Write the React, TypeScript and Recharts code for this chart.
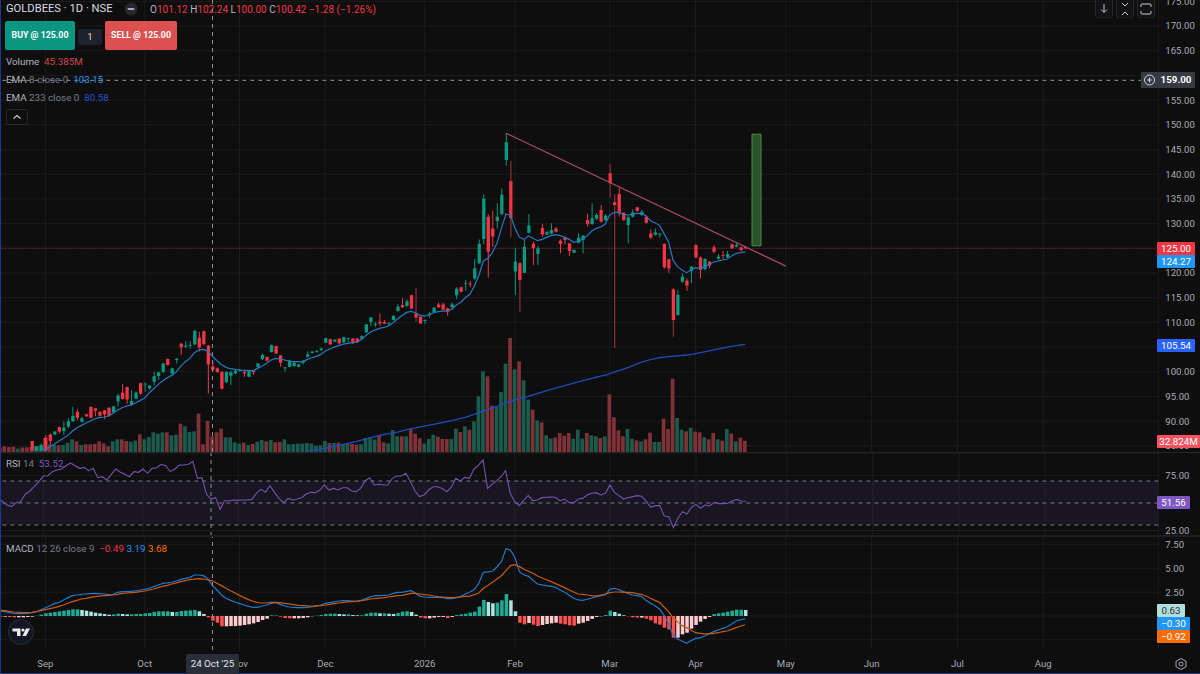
import React from 'react';
import {
  ComposedChart,
  Bar,
  Line,
  XAxis,
  YAxis,
  CartesianGrid,
  ReferenceLine,
  ReferenceArea,
} from 'recharts';

const gap7 = Array(7).fill(null);

const opens = [
  ...gap7, 85.99, 84.03, 84.17,
  86.66, 87.34, 87.3, 88.8, 88.0, 88.9, 90.0, 91.9, 89.9, 91.4,
  92.9, 92.6, 91.9, 92.2, 92.7, 91.8, 94.0, 95.8, 96.9, 93.3,
  94.6, 97.7, 97.5, 96.65, 98.0, 99.15, 100.0, 102.6, 99.7, 102.4,
  105.7, 105.1, 105.3, 105.56, 106.9, 108.2, 105.3, 101.12, 100.7, 100.0,
  97.9, 99.2, 99.7, 100.15, 100.0, 99.0, 100.15, 101.0, 102.6, 103.0,
  104.0, 105.2, 103.3, 100.7, 101.0, 101.2, 101.0, 101.84, 103.05, 103.8,
  104.05, 104.4, 105.9, 106.6, 106.1, 106.7, 106, 106.7, 106.75, 106.75,
  106.7, 108.0, 110.1, 109.5, 110.1, 110.1, 109.65, 110.5, 112.3, 113.5,
  113.3, 115.5, 111.8, 111.15, 110.3, 111.5, 112.0, 113.6, 113.65, 112.85,
  113.05, 115.5, 117.1, 117.9, 117.85, 118.9, 121.95, 126.9, 131.4, 129.0,
  130.5, 131.95, 142.9, 138.6, 120.3, 122, 120.05, 128.15, 125.9, 123.85,
  129.1, 127.8, 128, 129, 126.55, 127.2, 126, 124.1, 126.15, 126.7,
  130.7, 129.9, 131, 132.75, 130.65, 140.2, 134.35, 136, 132.2, 129.7,
  131.4, 133.3, 131.75, 131.4, 128, 127.7, 127.8, 125.9, 122.75, 116.7,
  111.5, 118.25, 118.45, 120.4, 125.65, 123.15, 120.8, 122.3, 125.2, 122.9,
  123.65, 123.2, 125.8, 125.3, 125.2, 125.3,
];

const highs = [
  ...gap7, 86.0, 84.9, 85.5,
  87.2, 87.5, 88.0, 88.9, 89.9, 90.6, 92.9, 92.4, 90.9, 91.5,
  93.0, 92.7, 92, 92.3, 92.9, 93.1, 95.6, 97.5, 97.0, 96.3,
  96.0, 97.8, 97.8, 97.3, 100.0, 100, 101.8, 102.7, 100.8, 102.8,
  105.8, 106.2, 106.2, 108.5, 108.1, 108.4, 105.4, 102.24, 100.9, 100.1,
  100.1, 100.2, 100.5, 100.6, 100.1, 100.2, 100.2, 101.8, 103.7, 103.1,
  105.5, 105.3, 103.4, 101.0, 102.4, 102.0, 101.6, 102.4, 104.1, 104.2,
  104.4, 104.95, 106.9, 106.7, 106.6, 106.8, 107.1, 106.9, 106.8, 106.8,
  107.4, 109.7, 111.1, 110.1, 111.8, 110.5, 110.1, 111.4, 113.7, 114.9,
  114.7, 115.6, 117.0, 111.2, 110.6, 112.15, 113.1, 114.0, 114, 113,
  114, 117.1, 117.2, 118.6, 118.4, 122.8, 126.8, 135.9, 131.9, 132.6,
  134.1, 137.1, 148.3, 142.7, 125.0, 122.2, 126.7, 131.9, 126.3, 125.45,
  129.9, 128.4, 130.05, 129.3, 126.8, 127.4, 126.1, 124.8, 128.05, 127.7,
  132, 134.1, 132.1, 133.75, 131.9, 142, 136, 137.25, 132.3, 131.6,
  132.9, 133.4, 132.75, 131.5, 128.85, 129, 128.1, 126, 122.9, 117,
  116.55, 119.9, 118.9, 121.4, 125.8, 123.3, 123, 122.4, 125.65, 123.8,
  124.45, 124.45, 125.95, 126.2, 125.3, 125.5,
];

const lows = [
  ...gap7, 84.0, 84.0, 84.0,
  84.0, 85.2, 87.2, 87.5, 87.2, 88.6, 89.9, 90.2, 89.7, 90.9,
  90.6, 91.0, 90.9, 90.4, 90.9, 91.7, 93.0, 94.4, 93.5, 93.1,
  94.4, 95.4, 96.0, 96.4, 97.3, 98.3, 99.7, 101.3, 99.3, 101.7,
  103.4, 104.8, 104.7, 105.4, 104.1, 105.4, 95.6, 100, 99.8, 96.4,
  97.7, 97.3, 99.5, 100.0, 99.0, 98.9, 99.35, 100.7, 102.4, 102.0,
  103.9, 103.6, 101.0, 100.0, 100.9, 101.0, 100.9, 101.5, 102.9, 103.7,
  103.9, 104.2, 105.8, 105.5, 106, 105.7, 105.8, 106, 105.6, 105.9,
  106.5, 107.9, 109.2, 109.1, 109.3, 109.7, 109.3, 110.4, 112.2, 113,
  113.2, 112.7, 110.1, 109.7, 109.65, 111.0, 111.9, 113, 112.4, 111.35,
  112.9, 114.7, 116.1, 116.4, 117.1, 118.6, 121.9, 125.8, 119.1, 125.3,
  129.0, 131.7, 141.7, 127.2, 115.55, 112.1, 120.0, 128, 121.6, 121.6,
  127.35, 127.7, 127.8, 128.2, 124, 125.8, 123.45, 124, 126, 124,
  129.4, 129.8, 130.7, 130.2, 130.5, 135.25, 104.75, 131.4, 130.6, 126,
  131.25, 132.4, 131.6, 130, 126.9, 127.55, 127.15, 120.9, 120.05, 107.1,
  111.4, 118, 116.4, 117.9, 123, 118.9, 120.5, 120.95, 124, 122.65,
  122.8, 123, 124.9, 125.2, 124.4, 124.8,
];

const closes = [
  ...gap7, 84.03, 84.84, 85.15,
  84.03, 86.0, 87.9, 87.9, 88.7, 90.0, 91.1, 90.7, 90.6, 91.0,
  90.7, 92.1, 91.1, 91.4, 91.1, 93.0, 95.2, 94.5, 94.4, 94.1,
  95.8, 95.6, 97.6, 97.2, 99.1, 99.9, 101.7, 101.4, 100.7, 102.65,
  104.95, 105.3, 105.4, 108.3, 104.95, 105.6, 101.5, 100.42, 99.96, 96.6,
  100.0, 99.9, 100.2, 100.4, 99.7, 100.15, 99.9, 101.7, 103.4, 102.3,
  105.4, 103.7, 101.85, 100.9, 102.3, 101.85, 101.5, 102.25, 103.5, 104.1,
  104.2, 104.7, 106.8, 105.55, 106.5, 105.75, 107, 106.8, 105.8, 106.0,
  107.2, 109.6, 111.0, 109.7, 109.8, 109.75, 109.8, 111.35, 113.2, 113.05,
  114.3, 112.8, 111.0, 109.8, 110.5, 111.75, 113, 113.05, 112.6, 112.15,
  113.65, 116.8, 116.2, 118.0, 117.7, 120.95, 125.9, 135.05, 124.3, 127.35,
  131.4, 135.85, 146.5, 131.05, 122.3, 118.6, 125.3, 129.65, 125.05, 125,
  127.8, 128.35, 128.7, 128.35, 125.9, 126.7, 124.45, 124.65, 127.15, 127.55,
  129.9, 131.1, 131.75, 130.4, 131.6, 138.15, 133.75, 132.1, 130.7, 131.27,
  132.3, 132.55, 132.4, 130.2, 127.15, 128.2, 128, 121.15, 120.95, 110.5,
  115.55, 119.25, 117.45, 121.3, 123.15, 120.6, 122.85, 121.5, 124.3, 123.3,
  123.5, 123.85, 125, 125.65, 124.65, 125,
];

// in millions
const volumes = [
  12.5, 16.4, 14.5, 15.4, 9.7, 13.5, 13.5, 14.5, 17.4, 19.3,
  40.5, 21.2, 21.2, 19.3, 20.3, 27, 36.7, 30.9, 20.3, 22.2,
  22.2, 23.2, 30.9, 25.1, 16.4, 30.9, 36.7, 36.7, 31.8, 29.9,
  32.8, 51.1, 36.7, 43.4, 56.9, 53.1, 56.9, 56.9, 48.3, 50.2,
  82, 74.3, 57.9, 59.8, 111, 22.2, 89.7, 45.385, 56.9, 67.6,
  42.5, 42.5, 28, 24.1, 27, 20.3, 23.2, 29.9, 34.7, 30.9,
  34.7, 28, 29, 36.7, 22.2, 23.2, 24.1, 24.1, 26.1, 24.1,
  18.3, 19.3, 31.8, 26.1, 26.1, 27, 23.2, 24.1, 23.2, 21.2,
  22.2, 40.5, 43.4, 35.7, 46.3, 28, 25.1, 63.7, 45.4, 45.4,
  45.4, 68.5, 53.1, 39.6, 24.1, 37.6, 50.2, 44.4, 37.6, 37.6,
  37.6, 67.6, 57.9, 74.3, 64.7, 88.8, 161.2, 233.5, 219.1, 134.1,
  130.3, 173.7, 255.7, 330, 239.3, 262.5, 207.5, 151.5, 122.6, 91.7,
  85.9, 48.3, 38.6, 42.5, 55, 47.3, 55, 38.6, 64.7, 38.6,
  55, 48.3, 45.4, 40.5, 45.4, 166.9, 100.4, 62.7, 45.4, 66.6,
  38.6, 33.8, 30.9, 36.7, 56, 29, 29, 96.5, 66.6, 212.3,
  98.4, 64.7, 59.8, 70.4, 58.9, 56.9, 42.5, 36.7, 55, 36.7,
  32.8, 66.6, 53.1, 30.9, 41.5, 32.824,
];

// first sessions sit below the visible price range, only their volume colour is known
const earlyVolumeDown = [true, true, true, true, false, true, true];

const ema8 = [
  ...Array(9).fill(null), 84.03,
  84.3, 84.84, 85.38, 85.99, 86.53, 87.14, 88.01, 88.69, 89.16, 89.63,
  90.04, 90.51, 90.71, 90.85, 91.05, 91.59, 92.27, 92.74, 93.07, 93.28,
  93.75, 94.22, 94.69, 95.77, 96.58, 97.46, 98.2, 98.81, 99.28, 100.03,
  101.17, 102.05, 102.72, 103.87, 104.41, 104.55, 104.14, 103.15, 102.25, 101.44,
  100.9, 100.63, 100.5, 100.36, 100.3, 100.23, 100.23, 100.7, 101.17, 101.71,
  102.39, 102.72, 102.59, 102.39, 102.12, 102.05, 102.05, 101.98, 102.52, 102.85,
  103.12, 103.53, 104.2, 104.61, 105.01, 105.35, 105.62, 105.76, 105.89, 106.02,
  106.56, 107.37, 108.05, 108.45, 108.79, 108.99, 109.26, 109.94, 110.75, 111.42,
  112.03, 112.23, 111.96, 111.42, 111.29, 111.56, 111.96, 112.17, 112.3, 112.37,
  112.64, 113.51, 114.1, 115.0, 115.7, 117.3, 119.5, 122.43, 122.97, 124.11,
  126, 129.04, 131.94, 131.74, 129.04, 127.22, 126.81, 127.49, 127.02, 126.54,
  126.81, 127.22, 127.56, 127.76, 127.56, 127.22, 126.81, 126.21, 126.34, 126.88,
  127.56, 128.5, 129.04, 129.31, 129.92, 131.74, 132.28, 132.21, 131.87, 131.74,
  131.87, 132.08, 132.08, 131.6, 130.59, 130.19, 129.65, 128.03, 126.34, 122.63,
  121.28, 120.6, 120.07, 120.6, 121.08, 120.94, 121.28, 121.69, 122.23, 122.43,
  122.63, 122.83, 123.44, 123.98, 124.11, 124.27,
];

const ema233 = [
  ...Array(68).fill(null), 83.96, 84.08,
  84.2, 84.35, 84.5, 84.73, 84.97, 85.14, 85.31, 85.51, 85.72, 85.92,
  86.17, 86.41, 86.66, 86.88, 87.11, 87.33, 87.49, 87.65, 87.81, 88.03,
  88.26, 88.48, 88.66, 88.84, 89.02, 89.2, 89.38, 89.56, 89.74, 89.92,
  90.1, 90.33, 90.56, 90.78, 91.08, 91.38, 91.73, 92.05, 92.4, 92.72,
  93.0, 93.25, 93.75, 94.09, 94.3, 94.55, 94.76, 95.05, 95.35, 95.65,
  95.9, 96.2, 96.45, 96.7, 96.95, 97.19, 97.45, 97.7, 97.95, 98.2,
  98.42, 98.65, 98.9, 99.12, 99.35, 99.65, 99.95, 100.23, 100.55, 100.85,
  101.2, 101.6, 101.95, 102.2, 102.45, 102.65, 102.85, 102.98, 103.07, 103.15,
  103.22, 103.3, 103.4, 103.55, 103.7, 103.87, 104.05, 104.25, 104.45, 104.65,
  104.82, 105.0, 105.15, 105.3, 105.43, 105.54,
];

const rsi = [
  54.85, 51.2, 48.2, 46.7, 50.3, 51.2, 57.9, 60.9, 64.8, 69.4,
  74.5, 74.8, 78.5, 80.0, 80.9, 83.9, 86.4, 83.9, 81.5, 82.4,
  79.4, 81.5, 73.0, 73.9, 70.9, 76.1, 80.9, 77.9, 76.1, 73.9,
  78.5, 77.9, 80.9, 77.0, 81.5, 82.1, 85.2, 83.9, 78.5, 80.9,
  84.5, 84.5, 85.2, 87.6, 72.4, 73.0, 57.9, 53.52, 54.85, 44.2,
  52.1, 52.1, 52.7, 52.4, 52.7, 52.7, 53.3, 58.8, 62.4, 59.7,
  65.8, 59.7, 54.2, 50.3, 54.2, 52.7, 53.6, 54.85, 58.2, 59.7,
  59.4, 61.5, 66.4, 61.8, 63.3, 61.8, 63.9, 63.9, 60.9, 60.3,
  63.3, 70, 73, 66.4, 67, 66.4, 66.4, 72.4, 74.5, 74.5,
  77, 69.4, 60.9, 55.8, 57.3, 61.8, 64.8, 64.8, 63.3, 60.3,
  64.2, 72.4, 70, 73.3, 72.4, 80.6, 84.5, 89.1, 63.3, 67,
  70.3, 73.9, 79.4, 58.8, 51.2, 47.6, 52.7, 56.7, 52.1, 52.7,
  54.85, 55.2, 55.5, 55.2, 52.1, 53.6, 50.3, 50.3, 53.6, 54.2,
  57.3, 58.8, 59.4, 57.3, 58.8, 66.4, 59.7, 56.7, 53.6, 54.85,
  55.8, 56.7, 56.1, 51.8, 46.1, 47.6, 47.6, 38.2, 37.6, 27.6,
  36.1, 42.1, 40, 46.1, 48.8, 45.2, 48.2, 47.3, 50.6, 49.4,
  49.4, 49.7, 51.8, 53.3, 51.8, 51.56,
];

const macd = [
  0.52, 0.45, 0.35, 0.28, 0.24, 0.24, 0.28, 0.35, 0.45, 0.66,
  0.87, 1.08, 1.29, 1.43, 1.68, 1.92, 2.13, 2.2, 2.27, 2.3,
  2.34, 2.37, 2.34, 2.3, 2.23, 2.27, 2.48, 2.55, 2.55, 2.58,
  2.62, 2.72, 2.79, 2.9, 3.07, 3.25, 3.42, 3.46, 3.53, 3.66,
  3.84, 3.94, 4.05, 4.29, 4.29, 4.22, 3.87, 3.19, 2.72, 2.2,
  1.85, 1.64, 1.47, 1.29, 1.15, 1.01, 0.91, 0.91, 1.05, 1.15,
  1.33, 1.4, 1.22, 1.05, 0.94, 0.91, 0.87, 0.87, 0.91, 0.98,
  1.05, 1.15, 1.33, 1.4, 1.47, 1.57, 1.61, 1.61, 1.57, 1.57,
  1.64, 1.82, 2.02, 2.13, 2.13, 2.16, 2.2, 2.37, 2.48, 2.48,
  2.58, 2.65, 2.37, 2.06, 1.99, 1.95, 1.95, 1.95, 1.92, 1.82,
  1.82, 1.92, 2.06, 2.3, 2.51, 2.76, 3.42, 4.57, 4.61, 4.68,
  5.13, 5.69, 7.05, 6.91, 6.11, 4.64, 4.29, 4.15, 3.73, 3.35,
  3.25, 3.18, 3.11, 3.0, 2.72, 2.48, 2.16, 1.85, 1.68, 1.64,
  1.75, 1.88, 2.02, 2.13, 2.2, 2.79, 2.9, 2.76, 2.55, 2.37,
  2.2, 2.13, 2.06, 1.64, 1.33, 1.08, 0.73, 0.1, -0.77, -1.99,
  -2.41, -2.62, -2.86, -2.58, -2.34, -2.3, -2.09, -1.85, -1.64, -1.47,
  -1.29, -1.12, -0.84, -0.52, -0.38, -0.3,
];

const macdSignal = [
  0.59, 0.56, 0.49, 0.42, 0.38, 0.35, 0.35, 0.38, 0.45, 0.56,
  0.66, 0.77, 0.87, 1.01, 1.15, 1.33, 1.5, 1.64, 1.78, 1.85,
  1.95, 2.02, 2.09, 2.13, 2.16, 2.2, 2.27, 2.37, 2.41, 2.44,
  2.48, 2.55, 2.62, 2.72, 2.83, 2.97, 3.11, 3.21, 3.35, 3.46,
  3.6, 3.7, 3.8, 3.87, 3.91, 3.87, 3.77, 3.68, 3.42, 3.18,
  2.9, 2.65, 2.41, 2.16, 1.92, 1.71, 1.54, 1.4, 1.36, 1.36,
  1.43, 1.43, 1.4, 1.33, 1.26, 1.19, 1.12, 1.08, 1.05, 1.01,
  1.05, 1.08, 1.15, 1.22, 1.29, 1.36, 1.43, 1.47, 1.5, 1.54,
  1.61, 1.68, 1.78, 1.82, 1.88, 1.92, 1.99, 2.06, 2.13, 2.16,
  2.27, 2.37, 2.37, 2.3, 2.23, 2.2, 2.09, 2.02, 1.99, 1.95,
  1.92, 1.95, 1.99, 2.06, 2.09, 2.23, 2.41, 2.9, 3.18, 3.53,
  3.87, 4.22, 4.75, 5.27, 5.38, 5.17, 4.89, 4.68, 4.47, 4.19,
  3.98, 3.8, 3.6, 3.39, 3.18, 2.97, 2.72, 2.51, 2.3, 2.27,
  2.2, 2.13, 2.09, 2.2, 2.3, 2.44, 2.51, 2.51, 2.48, 2.48,
  2.44, 2.34, 2.27, 2.09, 1.85, 1.64, 1.43, 0.94, 0.45, -0.17,
  -0.59, -1.01, -1.22, -1.5, -1.75, -1.82, -1.88, -1.88, -1.82, -1.75,
  -1.64, -1.57, -1.4, -1.22, -1.05, -0.92,
];

const macdHist = [
  -0.07, -0.07, -0.1, -0.14, -0.14, -0.14, -0.1, -0.07, 0.03, 0.14,
  0.28, 0.35, 0.42, 0.49, 0.56, 0.63, 0.7, 0.7, 0.63, 0.56,
  0.45, 0.35, 0.28, 0.21, 0.14, 0.17, 0.24, 0.21, 0.17, 0.17,
  0.21, 0.21, 0.28, 0.31, 0.42, 0.49, 0.49, 0.49, 0.42, 0.42,
  0.52, 0.56, 0.59, 0.63, 0.49, 0.21, -0.14, -0.49, -0.7, -1.08,
  -1.08, -1.05, -1.05, -1.01, -0.94, -0.87, -0.77, -0.63, -0.42, -0.28,
  0.07, 0.03, -0.07, -0.21, -0.24, -0.24, -0.24, -0.21, -0.14, -0.03,
  0.03, 0.1, 0.21, 0.24, 0.24, 0.21, 0.17, 0.17, 0.1, 0.07,
  0.07, 0.24, 0.35, 0.35, 0.28, 0.28, 0.24, 0.21, 0.31, 0.45,
  0.49, 0.42, 0.14, -0.17, -0.24, -0.24, -0.17, -0.1, -0.1, -0.21,
  -0.1, 0.1, 0.17, 0.24, 0.35, 0.45, 0.98, 1.68, 1.47, 1.33,
  1.4, 1.64, 2.3, 1.64, 0.49, -0.7, -0.87, -0.73, -0.91, -1.05,
  -0.94, -0.84, -0.77, -0.7, -0.8, -0.87, -0.98, -1.01, -0.8, -0.7,
  -0.52, -0.31, -0.1, -0.03, 0.1, 0.56, 0.42, 0.24, 0.07, -0.03,
  -0.14, -0.17, -0.17, -0.28, -0.45, -0.77, -0.91, -1.22, -1.4, -2.27,
  -2.27, -1.92, -1.75, -1.33, -0.94, -0.59, -0.31, -0.1, 0.21, 0.28,
  0.35, 0.45, 0.56, 0.66, 0.66, 0.63,
];

const monthRows = [10, 32, 53, 72, 94, 114, 135, 154, 174, 193, 212, 231];
const monthLabels = ['Sep', 'Oct', 'Nov', 'Dec', '2026', 'Feb', 'Mar', 'Apr', 'May', 'Jun', 'Jul', 'Aug'];
const priceGrid = [175, 170, 165, 160, 155, 150, 145, 140, 135, 130, 125, 120, 115, 110, 105, 100, 95, 90, 85];
// 160, 125 and 105 sit fully behind the value tags on the axis
const priceTicks = [175, 170, 165, 155, 150, 145, 140, 135, 130, 120, 115, 110, 100, 95, 90, 85];
const rsiTicks = [75, 25];
const macdGrid = [7.5, 5, 2.5, 0, -2.5];
const macdTicks = [7.5, 5, 2.5, -2.5];

const ROW_COUNT = 257;
const CROSSHAIR_ROW = 47;
// these wicks land between two pixels in the screenshot and read much darker
const softWicks = [92, 113, 115, 135, 136, 149];

const rows = Array.from({ length: ROW_COUNT }, (_, i) => ({
  idx: i,
  open: opens[i] ?? null,
  high: highs[i] ?? null,
  low: lows[i] ?? null,
  close: closes[i] ?? null,
  volume: volumes[i] ?? null,
  ema8: ema8[i] ?? null,
  ema233: ema233[i] ?? null,
  rsi: rsi[i] ?? null,
  macd: macd[i] ?? null,
  signal: macdSignal[i] ?? null,
  hist: macdHist[i] ?? null,
  prevHist: macdHist[i - 1] ?? 0,
  volumeDown: i < earlyVolumeDown.length ? earlyVolumeDown[i] : closes[i] < opens[i],
}));

const BG = '#0e0e0f';
const GRID = '#1b1b1d';
const UP = '#089981';
const DOWN = '#f23645';
const AXIS_TEXT = '#a8abb3';
const FONT = 'Roboto, sans-serif';
const CHART_W = 1202.26;
const AXIS_W = 41.9;

const fmt = (v: number) => (v < 0 ? '\u2212' : '') + Math.abs(v).toFixed(2);
const monthLabel = (row: number) => monthLabels[monthRows.indexOf(row)] ?? '';
const tickStyle = { fill: AXIS_TEXT, fontSize: 9.6, fontFamily: FONT };

const Candle = (props: any) => {
  const { x, y, width, height, payload } = props;
  if (payload.high == null) return null;
  const { idx, open, high, low, close } = payload;
  const unit = height / (high - low || 1);
  const color = close < open ? DOWN : UP;
  const bodyTop = y + (high - Math.max(open, close)) * unit;
  const bodyH = Math.max(Math.abs(open - close) * unit, 0.8);
  const mid = x + width / 2;
  const soft = softWicks.includes(idx);
  return (
    <g>
      <line x1={mid} x2={mid} y1={y} y2={y + height} stroke={soft ? '#7c2a33' : color} strokeWidth={soft ? 1.4 : 1} />
      <rect x={x} y={bodyTop} width={width} height={bodyH} fill={color} />
    </g>
  );
};

const VolumeBar = (props: any) => {
  const { x, y, width, height, payload } = props;
  if (payload.volume == null) return null;
  const fill = payload.volumeDown ? '#7f3238' : '#1b5b4e';
  return <rect x={x} y={y} width={width} height={height} fill={fill} />;
};

const HistBar = (props: any) => {
  const { x, y, width, height, payload } = props;
  if (payload.hist == null) return null;
  const { hist, prevHist } = payload;
  let fill = '#22ab94';
  if (hist >= 0 && hist < prevHist) fill = '#ace5dc';
  if (hist < 0) fill = hist < prevHist ? '#ff5252' : '#fccbcd';
  return <rect x={x} y={Math.min(y, y + height)} width={width} height={Math.abs(height)} fill={fill} />;
};

const Tag = ({ top, width, bg, color = '#fff', text, height = 13 }: any) => (
  <div
    style={{
      position: 'absolute',
      left: 1157,
      top,
      width,
      height,
      lineHeight: `${height}px`,
      background: bg,
      color,
      fontSize: 9.8,
      fontFamily: FONT,
      textAlign: 'center',
      borderRadius: 1,
    }}
  >
    {text}
  </div>
);

const Label = ({ left, top, children, color = '#b2b5be', size = 9.8, weight = 400 }: any) => (
  <div
    style={{
      position: 'absolute',
      left,
      top,
      color,
      fontSize: size,
      fontWeight: weight,
      fontFamily: FONT,
      whiteSpace: 'nowrap',
      lineHeight: '12px',
    }}
  >
    {children}
  </div>
);

const IconBox = ({ left, d }: any) => (
  <svg style={{ position: 'absolute', left, top: 0 }} width={18} height={18}>
    <rect x={0.5} y={-3} width={17} height={21} rx={3} fill="#131315" stroke="#26272b" />
    <path d={d} fill="none" stroke="#c8cad0" strokeWidth={1} />
  </svg>
);

export default function App() {
  const crosshair = <ReferenceLine x={CROSSHAIR_ROW} stroke="#8f9298" strokeDasharray="4 4" />;
  return (
    <div style={{ position: 'fixed', left: 0, top: 0, width: 1200, height: 674, background: BG, overflow: 'hidden' }}>
      {/* price + volume pane */}
      <div style={{ position: 'absolute', left: -2.26, top: 0 }}>
        <ComposedChart width={CHART_W} height={452} data={rows} margin={{ top: 0, right: 0, bottom: 0, left: 0 }}>
          <XAxis dataKey="idx" ticks={monthRows} interval={0} hide />
          <XAxis xAxisId="vol" dataKey="idx" hide />
          <YAxis
            orientation="right"
            width={AXIS_W}
            domain={[83.77, 175.26]}
            allowDataOverflow
            ticks={priceTicks}
            interval={0}
            tickFormatter={fmt}
            axisLine={false}
            tickLine={false}
            tickSize={0}
            tickMargin={7}
            tick={tickStyle}
          />
          <YAxis yAxisId="vol" hide domain={[0, 1308]} />
          <CartesianGrid stroke={GRID} horizontalValues={priceGrid} />
          <Bar xAxisId="vol" yAxisId="vol" dataKey="volume" barSize={3.7} shape={<VolumeBar />} isAnimationActive={false} />
          <ReferenceLine y={125} stroke="#f23645" strokeOpacity={0.6} strokeDasharray="1 2" />
          <ReferenceArea x1={167} x2={168} y1={125.5} y2={148.1} fill="#2b5229" fillOpacity={1} stroke="#4d8a48" />
          <Bar dataKey={(d: any) => (d.high == null ? null : [d.low, d.high])} barSize={3.3} shape={<Candle />} isAnimationActive={false} />
          <Line dataKey="ema233" stroke="#1d4bb8" strokeWidth={1.3} dot={false} isAnimationActive={false} />
          <Line dataKey="ema8" stroke="#2379c4" strokeWidth={1.2} dot={false} isAnimationActive={false} />
          <ReferenceLine
            segment={[
              { x: 112, y: 148.3 },
              { x: 174, y: 121.4 },
            ]}
            stroke="#a64a68"
            strokeWidth={1.2}
          />
          <ReferenceLine y={159} stroke="#8f9298" strokeDasharray="4 4" />
          {crosshair}
        </ComposedChart>
      </div>

      {/* RSI pane */}
      <div style={{ position: 'absolute', left: -2.26, top: 453 }}>
        <ComposedChart width={CHART_W} height={83} data={rows} margin={{ top: 0, right: 0, bottom: 0, left: 0 }}>
          <XAxis dataKey="idx" ticks={monthRows} interval={0} hide />
          <YAxis
            orientation="right"
            width={AXIS_W}
            domain={[20, 95.45]}
            ticks={rsiTicks}
            interval={0}
            tickFormatter={fmt}
            axisLine={false}
            tickLine={false}
            tickSize={0}
            tickMargin={7}
            tick={tickStyle}
          />
          <CartesianGrid stroke={GRID} />
          <ReferenceArea y1={30} y2={70} fill="#7e57c2" fillOpacity={0.1} stroke="none" />
          <ReferenceLine y={70} stroke="#787b86" strokeDasharray="4 4" />
          <ReferenceLine y={50} stroke="#787b86" strokeDasharray="4 4" />
          <ReferenceLine y={30} stroke="#787b86" strokeDasharray="4 4" />
          <Line dataKey="rsi" stroke="#7552b4" strokeWidth={1.1} dot={false} isAnimationActive={false} />
          {crosshair}
        </ComposedChart>
      </div>

      {/* MACD pane + time axis */}
      <div style={{ position: 'absolute', left: -2.26, top: 537 }}>
        <ComposedChart width={CHART_W} height={137} data={rows} margin={{ top: 0, right: 0, bottom: 0, left: 0 }}>
          <XAxis
            dataKey="idx"
            ticks={monthRows}
            interval={0}
            height={24}
            tickFormatter={monthLabel}
            axisLine={false}
            tickLine={false}
            tickSize={0}
            tickMargin={10}
            tick={tickStyle}
          />
          <YAxis
            orientation="right"
            width={AXIS_W}
            domain={[-3.56, 8.27]}
            ticks={macdTicks}
            interval={0}
            tickFormatter={fmt}
            axisLine={false}
            tickLine={false}
            tickSize={0}
            tickMargin={7}
            tick={tickStyle}
          />
          <CartesianGrid stroke={GRID} horizontalValues={macdGrid} />
          <Bar dataKey="hist" barSize={3.5} shape={<HistBar />} isAnimationActive={false} />
          <Line dataKey="macd" stroke="#2079c7" strokeWidth={1.2} dot={false} isAnimationActive={false} />
          <Line dataKey="signal" stroke="#c85a12" strokeWidth={1.2} dot={false} isAnimationActive={false} />
          {crosshair}
        </ComposedChart>
      </div>

      {/* pane separators and window edge */}
      <div style={{ position: 'absolute', left: 0, top: 452, width: 1200, height: 1, background: '#24252a' }} />
      <div style={{ position: 'absolute', left: 0, top: 535, width: 1200, height: 2, background: '#1d1e23' }} />
      <div style={{ position: 'absolute', left: 0, top: 0, width: 1, height: 674, background: '#1c3a8c' }} />
      <div style={{ position: 'absolute', left: 0, top: 673, width: 1200, height: 1, background: '#1c3a8c' }} />

      {/* legends */}
      <Label left={6} top={3} size={11.2} color="#d8dae0">GOLDBEES · 1D · NSE</Label>
      <svg style={{ position: 'absolute', left: 124, top: 2 }} width={14} height={14}>
        <circle cx={7} cy={7} r={6.5} fill="#26272c" />
        <rect x={3.5} y={6} width={7} height={2} rx={1} fill="#a8abb3" />
      </svg>
      <Label left={150} top={4} size={10}>
        O<span style={{ color: DOWN }}>101.12</span>{' '}
        H<span style={{ color: DOWN }}>102.24</span>{' '}
        L<span style={{ color: DOWN }}>100.00</span>{' '}
        C<span style={{ color: DOWN }}>100.42</span>{' '}
        <span style={{ color: DOWN }}>−1.28 (−1.26%)</span>
      </Label>
      <div style={{ position: 'absolute', left: 5, top: 21, width: 70, height: 29, background: '#0a9680', borderRadius: 2, color: '#fff', fontSize: 8.8, fontWeight: 700, fontFamily: FONT, textAlign: 'center', lineHeight: '29px' }}>BUY @ 125.00</div>
      <div style={{ position: 'absolute', left: 78, top: 29, width: 24, height: 16, background: '#1e222d', borderRadius: 2, color: '#e8d9a8', fontSize: 9.6, fontFamily: FONT, textAlign: 'center', lineHeight: '16px' }}>1</div>
      <div style={{ position: 'absolute', left: 105, top: 21, width: 72, height: 29, background: '#dd5052', borderRadius: 2, color: '#fff', fontSize: 8.8, fontWeight: 700, fontFamily: FONT, textAlign: 'center', lineHeight: '29px' }}>SELL @ 125.00</div>
      <Label left={6} top={56}>Volume&nbsp; <span style={{ color: '#d9444f' }}>45.385M</span></Label>
      <Label left={6} top={74}>EMA <span style={{ color: '#787b86' }}>8 close 0</span> &nbsp;<span style={{ color: '#2196f3' }}>103.15</span></Label>
      <Label left={6} top={92}>EMA <span style={{ color: '#787b86' }}>233 close 0</span> &nbsp;<span style={{ color: '#2255cc' }}>80.58</span></Label>
      <svg style={{ position: 'absolute', left: 6, top: 109 }} width={22} height={16}>
        <rect x={0.5} y={0.5} width={21} height={15} rx={2} fill="none" stroke="#26272b" />
        <path d="M7.5 9.5 L11 6.5 L14.5 9.5" fill="none" stroke="#c8cad0" strokeWidth={1.2} />
      </svg>
      <Label left={6} top={458}>RSI <span style={{ color: '#787b86' }}>14</span> &nbsp;<span style={{ color: '#7e57c2' }}>53.52</span></Label>
      <Label left={6} top={543}>
        MACD <span style={{ color: '#787b86' }}>12 26 close 9</span> &nbsp;<span style={{ color: '#f23645' }}>−0.49</span>{' '}
        <span style={{ color: '#2196f3' }}>3.19</span> <span style={{ color: '#ff6d00' }}>3.68</span>
      </Label>

      {/* top right buttons */}
      <IconBox left={1095} d="M9 4 V12 M6 9.5 L9 12.5 L12 9.5" />
      <IconBox left={1116} d="M6 3 L9 6 L12 3 M6 15 L9 12 L12 15" />
      <IconBox left={1137} d="M4 7 V5 Q4 4 5 4 H13 Q14 4 14 5 V7 M4 11 V13 Q4 14 5 14 H13 Q14 14 14 13 V11" />

      {/* axis tags */}
      <svg style={{ position: 'absolute', left: 1141, top: 72 }} width={17} height={16}>
        <rect width={17} height={16} fill="#363a45" />
        <circle cx={8.5} cy={8} r={5} fill="none" stroke="#d1d4dc" />
        <path d="M8.5 5.5 V10.5 M6 8 H11" stroke="#d1d4dc" />
      </svg>
      <Tag top={72} width={38} height={16} bg="#363a45" text={<b>159.00</b>} />
      <Tag top={241.5} width={38} bg="#f23645" text="125.00" />
      <Tag top={255} width={38} bg="#2196f3" text="124.27" />
      <Tag top={338.5} width={38} bg="#2962ff" text="105.54" />
      <Tag top={434.5} width={43} bg="#f7525f" text="32.824M" />
      <Tag top={495.5} width={33} bg="#7e57c2" text="51.56" />
      <Tag top={603.5} width={28} bg="#b2dfdb" color="#2a2e39" text="0.63" />
      <Tag top={616.5} width={33} bg="#2196f3" text="−0.30" />
      <Tag top={629.5} width={33} bg="#ff6d00" text="−0.92" />

      {/* crosshair date */}
      <div style={{ position: 'absolute', left: 186, top: 654, width: 53, height: 20, background: '#2a2e39', borderRadius: 2, color: '#e4e6eb', fontSize: 9.8, fontFamily: FONT, textAlign: 'center', lineHeight: '20px' }}>24 Oct '25</div>

      {/* logo + settings */}
      <svg style={{ position: 'absolute', left: 8, top: 619 }} width={26} height={26}>
        <circle cx={13} cy={13} r={12.5} fill="#131722" stroke="#2a2e39" />
        <path d="M4.5 9.5 H12.5 V17 H9 V12.5 H4.5 Z" fill="#e8e9ec" />
        <circle cx={15} cy={11} r={1.6} fill="#e8e9ec" />
        <path d="M18 9.5 H22 L18 17 H14.5 Z" fill="#e8e9ec" />
      </svg>
      <svg style={{ position: 'absolute', left: 1174, top: 657 }} width={14} height={14}>
        <path d="M7 1.5 L12 4.2 V9.8 L7 12.5 L2 9.8 V4.2 Z" fill="none" stroke="#a8abb3" />
        <circle cx={7} cy={7} r={2} fill="none" stroke="#a8abb3" />
      </svg>
    </div>
  );
}
